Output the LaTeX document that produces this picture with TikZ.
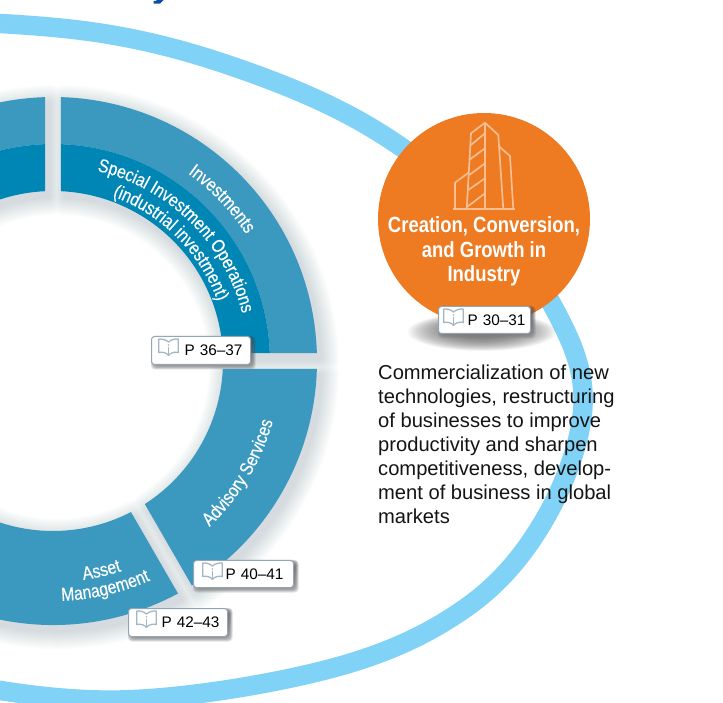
\documentclass[tikz,border=0pt]{standalone}
\usepackage{fontspec}
\setmainfont{Liberation Sans}
\newfontfamily\condreg[FakeStretch=0.84,FakeBold=0.35]{Liberation Sans}
\newfontfamily\condbold[FakeStretch=0.84]{Liberation Sans Bold}
\usetikzlibrary{decorations.text,calc}
\definecolor{bandblue}{HTML}{80D2F6}
\definecolor{ringlight}{HTML}{3B98BF}
\definecolor{ringdark}{HTML}{0086B5}
\definecolor{hubor}{HTML}{EE7A22}
\definecolor{bldg}{HTML}{F7BE92}
\definecolor{lblborder}{HTML}{93A6B5}
\definecolor{bookline}{HTML}{A3B6C3}
\definecolor{shade}{HTML}{6F8496}
\definecolor{inkblue}{HTML}{0B4EA2}
\tikzset{
  px/.style={x=1pt,y=-1pt,shift={(0pt,702pt)}},
  ringtext/.style={decorate,decoration={text along path,text align=center,text={|\color{white}\condreg\fontsize{18.7}{19}\selectfont|#1}}},
  pagebox/.style={draw=lblborder,line width=1pt,fill=white,rounded corners=3pt,inner ysep=0pt,align=right,font=\fontsize{15.3}{16}\selectfont},
  bookstroke/.style={draw=bookline,line width=1.3pt,line join=round,line cap=round}
}
\def\cx{53}\def\cy{341}
% a1, s1, a2, s2, r inner, r outer, style
\newcommand\seg[7]{%
  \pgfmathsetmacro\oa{#1+#2*asin(8/#6)}%
  \pgfmathsetmacro\ob{#3+#4*asin(8/#6)}%
  \pgfmathsetmacro\ia{#1+#2*asin(8/#5)}%
  \pgfmathsetmacro\ib{#3+#4*asin(8/#5)}%
  \path[#7] (\cx,\cy)++(\oa:#6) arc[start angle=\oa,end angle=\ob,radius=#6]
     -- ($(\cx,\cy)+(\ib:#5)$) arc[start angle=\ib,end angle=\ia,radius=#5] -- cycle;}
\newcommand\allsegs[1]{%
  \seg{90}{1}{195}{0}{170}{264}{#1}%
  \seg{90}{-1}{0}{1}{170}{264}{#1}%
  \seg{0}{-1}{-60}{1}{170}{264}{#1}%
  \seg{-60}{-1}{-195}{0}{170}{264}{#1}}
% name, x1, y1, x2, y2, text, right pad, icon offset
\newcommand\pagelabel[8]{%
  \begin{scope}[px]
  \foreach \k in {0,...,5}{%
    \fill[shade,opacity=.13,rounded corners=4pt] ({#2+4-\k*.8},{#3+4-\k*.8}) rectangle ({#4+1.5+\k*.8},{#5+1.5+\k*.8});}
  \pgfmathsetmacro\bw{#4-#2-2*#7}
  \node[pagebox,inner xsep=#7pt,text width=\bw pt,minimum height={#5-#3},anchor=north west] (#1) at (#2,#3) {#6};
  \begin{scope}[shift={(#2+#8,#3+2.5)}]
    \path[bookstroke] (10.5,3.5) .. controls (8,1) and (3,0) .. (0.7,0.7) -- (0.7,14) .. controls (4,13.2) and (8.5,14) .. (10.5,17)
       .. controls (12.5,14) and (17,13.2) .. (20.3,14) -- (20.3,0.7) .. controls (18,0) and (13,1) .. (10.5,3.5);
    \path[bookstroke] (10.5,9) -- (10.5,15.5);
    \fill[bookline] (10.5,6.5) circle[radius=.9];
  \end{scope}
  \end{scope}}
\begin{document}
\begin{tikzpicture}[x=1pt,y=1pt]
\clip (0,0) rectangle (723,702);
\fill[white] (0,0) rectangle (723,702);
% outer band
\begin{scope}[px]
\draw[bandblue,line width=19.5pt] (-70,21) .. controls (-20,22) and (48.3,25) .. (100,33)
  .. controls (151.7,41) and (195,53.3) .. (240,69)
  .. controls (285,84.7) and (330,103.2) .. (370,127)
  .. controls (410,150.8) and (449.2,181.5) .. (480,212)
  .. controls (510.8,242.5) and (537.8,277.8) .. (555,310)
  .. controls (572.2,342.2) and (584.5,370.5) .. (583,405)
  .. controls (581.5,439.5) and (565.3,483.3) .. (546,517)
  .. controls (526.7,550.7) and (502.5,581.8) .. (467,607)
  .. controls (431.5,632.2) and (390.8,652.5) .. (333,668)
  .. controls (275.2,683.5) and (187,698.5) .. (120,700)
  .. controls (53,701.5) and (-20,688) .. (-70,677);
\fill[inkblue] (157,0) -- (163.5,0) -- (160,3.6) -- (153.5,3.6) -- (153.5,1) -- (156,1) -- cycle;
\end{scope}
% ring shadow
\foreach \w in {36,33,...,1}{%
  \begin{scope}[shift={(4,-6)},transparency group,opacity=.024]
  \allsegs{fill=shade,draw=shade,line width=\w pt,line join=round}
  \end{scope}}
% ring
\seg{90}{1}{195}{0}{217}{264}{fill=ringlight}
\seg{90}{1}{195}{0}{170}{217}{fill=ringdark}
\seg{90}{-1}{0}{1}{217}{264}{fill=ringlight}
\seg{90}{-1}{0}{1}{170}{217}{fill=ringdark}
\seg{0}{-1}{-60}{1}{170}{264}{fill=ringlight}
\seg{-60}{-1}{-195}{0}{170}{264}{fill=ringlight}
% ring labels
\path[ringtext={Investments}] (\cx,\cy)++(66:231) arc[start angle=66,end angle=21.5,radius=231];
\path[ringtext={Special Investment Operations}] (\cx,\cy)++(88:195) arc[start angle=88,end angle=3,radius=195];
\path[ringtext={(industrial investment)}] (\cx,\cy)++(85:175) arc[start angle=85,end angle=5,radius=175];
\path[ringtext={Advisory Services}] (\cx,\cy)++(-60:228) arc[start angle=-60,end angle=-2,radius=228];
\path[ringtext={Asset}] (\cx,\cy)++(-97:221) arc[start angle=-97,end angle=-57,radius=221];
\path[ringtext={Management}] (\cx,\cy)++(-105:240) arc[start angle=-105,end angle=-49,radius=240];
% hub
\begin{scope}[px]
\foreach \k in {0,...,23}{%
  \fill[shade,opacity=.03] (482,332) ellipse[x radius={74-\k*2.5},y radius={19-\k*.55}];}
\node[circle,fill=hubor,minimum size=212pt,inner sep=0pt] (hub) at (484,219) {};
\draw[bldg,line width=1.7pt,line join=round] (453.3,209.3) -- (515,209.3);
\draw[bldg,line width=1.7pt,line join=round] (455,209.3) -- (455,182.7) -- (468.5,172.7);
\draw[bldg,line width=1.7pt,line join=round] (466.7,209.3) -- (471,133.3) -- (485,122.7) -- (498.3,135) -- (503.3,209.3);
\draw[bldg,line width=1.7pt] (485,122.7) -- (485,209.3);
\draw[bldg,line width=1.7pt,line join=round] (499.3,146.7) -- (510,156) -- (513.3,209.3);
\foreach \a/\b/\c/\d in {485/133.3/471/145, 485/148.3/470/159.3, 485/163.3/469.3/175, 485/178.3/468.3/190, 485/193.3/467/207}{%
  \draw[bldg,line width=1.7pt] (\a,\b) -- (\c,\d);}
\node[text=white,align=center,font=\condbold\fontsize{22}{24.5}\selectfont,inner sep=0pt,anchor=north] (title) at (484,216.5) {Creation, Conversion,\\and Growth in\\Industry};
\node[anchor=north west,inner sep=0pt,align=left,font=\fontsize{20.15}{24}\selectfont,text=black!92] (desc) at (378,364.5) {Commercialization of new\\technologies, restructuring\\of businesses to improve\\productivity and sharpen\\competitiveness, develop-\\ment of business in global\\markets};
\end{scope}
\pagelabel{p30}{438}{306}{530}{333}{P 30–31}{5}{5}
\pagelabel{p36}{151}{336}{250}{364}{P 36–37}{8}{7}
\pagelabel{p40}{193}{560}{293}{587}{P 40–41}{10}{9}
\pagelabel{p42}{128}{608}{227}{636}{P 42–43}{8}{8}
\end{tikzpicture}
\end{document}
